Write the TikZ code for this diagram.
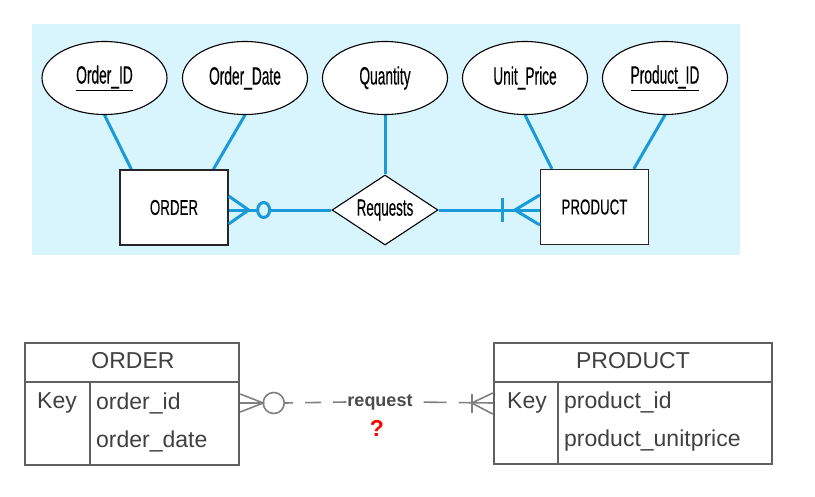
\documentclass[tikz,border=0pt]{standalone}
\usepackage{fontspec}
\setmainfont{Liberation Sans}
\newfontfamily\condA[FakeStretch=0.55,FakeBold=0.25]{Liberation Sans}
\newfontfamily\condB[FakeStretch=0.62,FakeBold=0.25]{Liberation Sans}
\newfontfamily\condC[FakeStretch=0.57,FakeBold=0.25]{Liberation Sans}
\usetikzlibrary{shapes.geometric,calc,backgrounds}
\definecolor{bgcyan}{HTML}{D8F5FD}
\definecolor{erblue}{HTML}{1A9AD8}
\definecolor{tgray}{HTML}{606060}
\begin{document}
\begin{tikzpicture}[x=1pt,y=-1pt,
  attr/.style={ellipse, draw=black, fill=white, line width=1.1pt, minimum width=125pt, minimum height=73pt, inner sep=0pt, font=\condA\fontsize{25}{27}\selectfont},
  ent/.style={rectangle, draw=black!85, fill=white, line width=1.3pt, minimum width=108pt, minimum height=75pt, inner sep=0pt, font=\condB\fontsize{21.5}{23}\selectfont},
  rel/.style={diamond, draw=black, fill=white, line width=1.1pt, aspect=1.5, minimum width=106pt, minimum height=70pt, inner sep=0pt, font=\condC\fontsize{23.5}{25}\selectfont},
  conn/.style={draw=erblue, line width=3pt},
  tab/.style={rectangle, draw=tgray, line width=2.5pt, inner sep=0pt},
  tline/.style={draw=tgray, line width=2.5pt},
  ttext/.style={text=black!75, font=\fontsize{23}{25}\selectfont, inner sep=0pt},
  tcross/.style={draw=tgray!80, line width=1.6pt},
]
\useasboundingbox (0,0) rectangle (815,496);
\begin{scope}[on background layer]
\fill[white] (0,0) rectangle (815,496);
\fill[bgcyan] (32,24) rectangle (740,255);
\end{scope}

% attribute ellipses
\node[attr] (oid) at (104.5,78) {\underline{Order\_ID}};
\node[attr] (odate) at (245,78) {Order\_Date};
\node[attr] (qty) at (385,78) {Quantity};
\node[attr] (uprice) at (525,78) {Unit\_Price};
\node[attr] (pid) at (665,78) {\underline{Product\_ID}};

% entities and relationship
\node[ent] (order) at (174,207.5) {ORDER};
\node[ent] (product) at (594.5,207) {PRODUCT};
\node[rel] (req) at (385,210) {Requests};

% attribute connectors
\begin{scope}[on background layer]
\draw[conn] (oid.south) -- ($(order.north west)!0.11!(order.north east)$);
\draw[conn] (odate.south) -- ($(order.north west)!0.86!(order.north east)$);
\draw[conn] (qty.south) -- (req.north);
\draw[conn] (uprice.south) -- ($(product.north west)!0.11!(product.north east)$);
\draw[conn] (pid.south) -- ($(product.north west)!0.86!(product.north east)$);
\end{scope}

% relationship connectors
\coordinate (oe) at (order.east |- req.west);
\coordinate (pw) at (product.west |- req.east);
\draw[conn] (oe) -- (req.west);
\draw[conn] ($(oe)+(0,-14)$) -- ($(oe)+(20,0)$) -- ($(oe)+(0,14)$);
\draw[conn, fill=bgcyan] ($(oe)+(35,0)$) ellipse (6pt and 7.5pt);
\draw[conn] (req.east) -- (pw);
\draw[conn] ($(pw)+(-37,-12)$) -- ($(pw)+(-37,12)$);
\draw[conn] ($(pw)+(0,-15)$) -- ($(pw)+(-25,0)$) -- ($(pw)+(0,15)$);

% bottom tables
\node[tab, minimum width=214pt, minimum height=122pt] (otab) at (132,404) {};
\node[tab, minimum width=278pt, minimum height=121pt] (ptab) at (633,403.5) {};
\draw[tline] (otab.west |- 0,382) -- (otab.east |- 0,382);
\draw[tline] (90,382) -- (90,465);
\draw[tline] (ptab.west |- 0,382) -- (ptab.east |- 0,382);
\draw[tline] (558,382) -- (558,464);

\node[ttext] (otitle) at (133,361) {ORDER};
\node[ttext] (okey) at (57,403) {Key};
\node[ttext, anchor=west] (oidf) at (96,403) {order\_id};
\node[ttext, anchor=west] (odf) at (96,441) {order\_date};

\node[ttext] (ptitle) at (633,361) {PRODUCT};
\node[ttext] (pkey) at (527,403) {Key};
\node[ttext, anchor=west] (pidf) at (564,403) {product\_id};
\node[ttext, anchor=west] (pupf) at (564,441) {product\_unitprice};

% relationship line
\coordinate (ote) at (otab.east |- okey);
\coordinate (ptw) at (ptab.west |- pkey);
\draw[tcross] ($(ote)+(0,-9)$) -- ($(ote)+(23,0)$) -- ($(ote)+(0,9)$);
\draw[tcross] (ote) -- ($(ote)+(23,0)$);
\node[draw=tgray!80, line width=1.6pt, circle, minimum size=21pt, inner sep=0pt] (ocirc) at ($(ote)+(33.5,0)$) {};
\node[font=\bfseries\fontsize{18}{20}\selectfont, text=black!70, fill=white, inner sep=1pt] (rlab) at (380,402) {request};
\draw[tcross, dash pattern=on 8pt off 12pt on 16pt off 12pt on 16pt off 40pt] (ocirc.east) -- (rlab.west);
\draw[tcross, dash pattern=on 0pt off 10pt on 23pt off 12pt on 40pt] (rlab.east) -- (ptw);
\draw[tcross] ($(ptw)+(-21,-9)$) -- ($(ptw)+(-21,10)$);
\draw[tcross] ($(ptw)+(0,-10)$) -- ($(ptw)+(-21,0)$) -- ($(ptw)+(0,11)$);

\node[text=red, font=\bfseries\fontsize{23}{25}\selectfont] (qm) at (377,428) {?};
\end{tikzpicture}
\end{document}
